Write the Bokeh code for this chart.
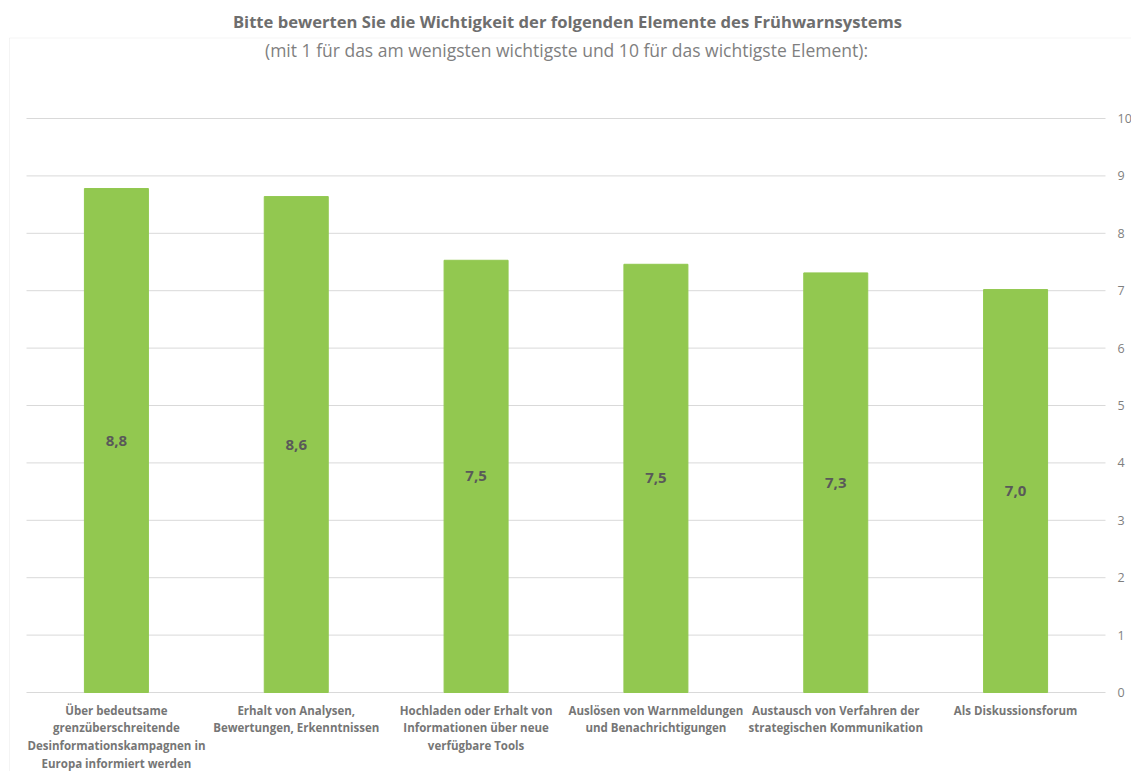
from bokeh.plotting import figure
from bokeh.models import ColumnDataSource, Label, Range1d, BoxAnnotation
from bokeh.core.properties import value
from bokeh.embed import file_html
from bokeh.resources import INLINE

# ---- data -------------------------------------------------------------
categories = [
    "Über bedeutsame\ngrenzüberschreitende\nDesinformationskampagnen in\nEuropa informiert werden",
    "Erhalt von Analysen,\nBewertungen, Erkenntnissen",
    "Hochladen oder Erhalt von\nInformationen über neue\nverfügbare Tools",
    "Auslösen von Warnmeldungen\nund Benachrichtigungen",
    "Austausch von Verfahren der\nstrategischen Kommunikation",
    "Als Diskussionsforum",
]
scores = [8.78, 8.64, 7.53, 7.46, 7.31, 7.02]
y_ticks = [0, 1, 2, 3, 4, 5, 6, 7, 8, 9, 10]
y_tick_labels = [str(t) for t in y_ticks]

title_text = "Bitte bewerten Sie die Wichtigkeit der folgenden Elemente des Frühwarnsystems"
subtitle_text = "(mit 1 für das am wenigsten wichtigste und 10 für das wichtigste Element):"

# ---- layout -----------------------------------------------------------
# The plotting frame covers the whole canvas; the bar area (one unit per
# category, 0..10 vertically) sits inside it and everything else is placed
# in the same data space.
W, H = 1131, 771
AREA_L, AREA_R, AREA_T, AREA_B = 26, 1105, 118, 692
Y_MIN, Y_MAX = 0, 10
N = len(categories)
PX_Y = (AREA_B - AREA_T) / (Y_MAX - Y_MIN)
PX_X = (AREA_R - AREA_L) / N


def ydata(py):
    return Y_MAX + (AREA_T - py) / PX_Y


def xdata(px):
    return (px - AREA_L) / PX_X


FONT = "Open Sans"
GREEN = "#92C850"
BAR_W = 64 / PX_X

xpos = [i + 0.5 for i in range(N)]

bars = ColumnDataSource(dict(
    x=xpos,
    score=scores,
    mid=[s / 2 for s in scores],
    label=[f"{s:.1f}".replace(".", ",") for s in scores],
    cat=categories,
))
ticks = ColumnDataSource(dict(
    y=y_ticks,
    x0=[0] * len(y_ticks),
    x1=[N] * len(y_ticks),
    label=y_tick_labels,
))

p = figure(
    width=W, height=H,
    x_range=Range1d(xdata(0), xdata(W)),
    y_range=Range1d(ydata(H), ydata(0)),
    output_backend="svg", toolbar_location=None,
    x_axis_location=None, y_axis_location=None,
    min_border=0,
)
p.title.visible = False
p.outline_line_color = None
p.grid.visible = False
p.background_fill_color = "white"
p.border_fill_color = "white"

# horizontal gridlines across the category band
p.segment(x0="x0", x1="x1", y0="y", y1="y", source=ticks,
          line_color="#d9d9d9", line_width=1)

# value scale on the right
p.text(x=xdata(1117), y="y", text="label", source=ticks,
       text_align="left", text_baseline="middle",
       text_font=value(FONT), text_font_size="12.5px", text_color="#7f7f7f")

# bars
p.vbar(x="x", top="score", width=BAR_W, source=bars,
       fill_color=GREEN, line_color=GREEN)

# value labels centred inside the bars
p.text(x="x", y="mid", text="label", source=bars,
       text_align="center", text_baseline="middle",
       text_font=value(FONT), text_font_style="bold", text_font_size="15px",
       text_color="#595959")

# category labels below the baseline
p.text(x="x", y=ydata(702), text="cat", source=bars,
       text_align="center", text_baseline="top",
       text_font=value(FONT), text_font_style="bold", text_font_size="11.5px",
       text_color="#767676", text_line_height=1.19)

# titles
p.add_layout(Label(
    x=xdata(567), y=ydata(21), text=title_text,
    text_align="center", text_baseline="middle",
    text_font=FONT, text_font_style="bold", text_font_size="16.6px",
    text_color="#6e6e6e",
))
p.add_layout(Label(
    x=xdata(566), y=ydata(49), text=subtitle_text,
    text_align="center", text_baseline="middle",
    text_font=FONT, text_font_size="17.5px",
    text_color="#7f7f7f",
))

# chart area border (top and left edges visible)
p.add_layout(BoxAnnotation(
    left=xdata(9), right=xdata(1160), top=ydata(37.5), bottom=ydata(820),
    fill_alpha=0, line_color="#d9d9d9", line_width=1,
))

open("out.html", "w").write(file_html(p, INLINE))
